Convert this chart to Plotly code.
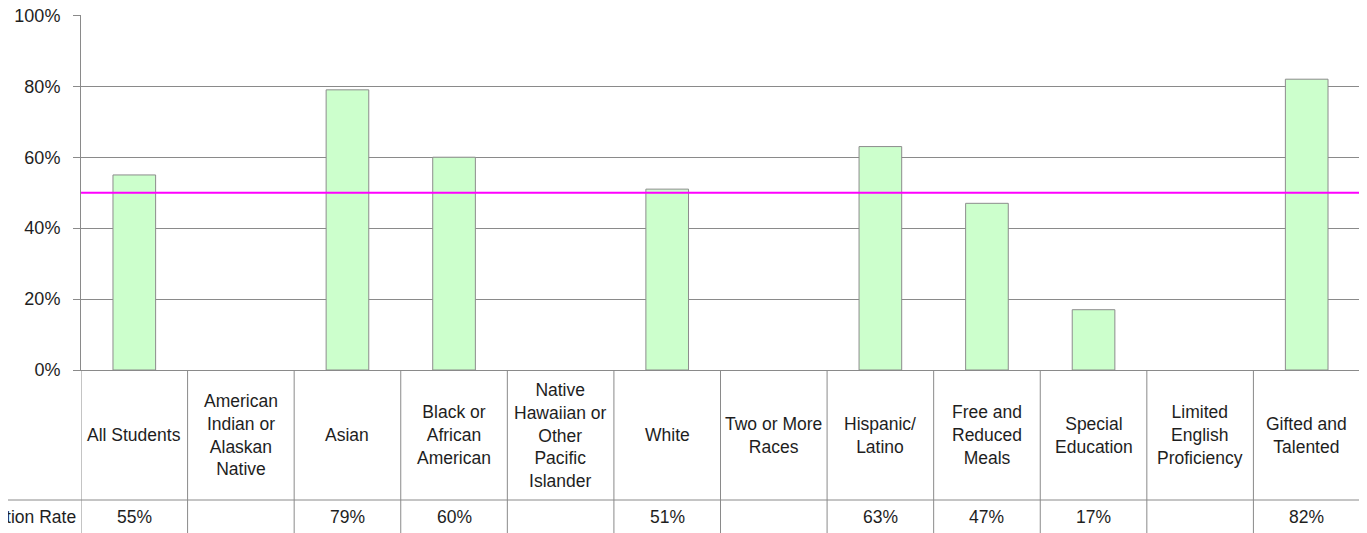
import plotly.graph_objects as go

categories = ['All Students', 'American<br>Indian or<br>Alaskan<br>Native', 'Asian',
              'Black or<br>African<br>American', 'Native<br>Hawaiian or<br>Other<br>Pacific<br>Islander',
              'White', 'Two or More<br>Races', 'Hispanic/<br>Latino', 'Free and<br>Reduced<br>Meals',
              'Special<br>Education', 'Limited<br>English<br>Proficiency', 'Gifted and<br>Talented']
rates = [0.55, None, 0.79, 0.60, None, 0.51, None, 0.63, 0.47, 0.17, None, 0.82]
target = 0.50
row_label = 'Participation Rate'
y_ticks = [0, 0.2, 0.4, 0.6, 0.8, 1.0]
y_tick_text = ['0%', '20%', '40%', '60%', '80%', '100%']

# page body adds an 8px offset, so the figure is sized to fit the window
W, H = 1359, 525
ml, mr, mt, mb = 73, 7, 7, 163
plot_h = H - mt - mb
plot_w = W - ml - mr
font = 'Liberation Sans, Arial, sans-serif'
txt_col = '#1e1e1e'
line_col = '#8a8a8a'
tsize = 17.5

xs = list(range(len(categories)))

fig = go.Figure()
fig.add_trace(go.Bar(x=xs, y=rates, width=0.4,
                     marker=dict(color='#CCFFCC', line=dict(color='#8c8c8c', width=1)),
                     hoverinfo='skip'))

shapes = []
# target line
shapes.append(dict(type='line', xref='paper', yref='y', x0=0, x1=1, y0=target, y1=target,
                   line=dict(color='#FF00FF', width=2), layer='above'))
# data table lines
bottom = -(mb + 10) / plot_h
for i in range(len(categories) + 1):
    shapes.append(dict(type='line', xref='x', yref='paper', x0=i - 0.5, x1=i - 0.5, y0=0, y1=bottom,
                       line=dict(color=line_col, width=1)))
row_y = -130 / plot_h
shapes.append(dict(type='line', xref='paper', yref='paper', x0=-ml / plot_w, x1=1, y0=row_y, y1=row_y,
                   line=dict(color=line_col, width=1)))

annotations = []
for i, c in enumerate(categories):
    annotations.append(dict(x=i, y=-65 / plot_h, xref='x', yref='paper', text=c, showarrow=False,
                            xanchor='center', yanchor='middle', align='center',
                            font=dict(family=font, size=tsize, color=txt_col)))
    if rates[i] is not None:
        annotations.append(dict(x=i, y=-147 / plot_h, xref='x', yref='paper',
                                text=f'{round(rates[i] * 100)}%', showarrow=False,
                                xanchor='center', yanchor='middle',
                                font=dict(family=font, size=tsize, color=txt_col)))
annotations.append(dict(x=-3 / plot_w, y=-147 / plot_h, xref='paper', yref='paper', text=row_label,
                        showarrow=False, xanchor='right', yanchor='middle',
                        font=dict(family=font, size=tsize, color=txt_col)))

fig.update_layout(
    width=W, height=H,
    margin=dict(l=ml, r=mr, t=mt, b=mb, autoexpand=False),
    paper_bgcolor='white', plot_bgcolor='white',
    showlegend=False,
    shapes=shapes, annotations=annotations,
    xaxis=dict(range=[-0.5, len(categories) - 0.5], showticklabels=False, showgrid=False,
               zeroline=False, showline=True, linecolor=line_col, ticks='', automargin=False),
    yaxis=dict(range=[0, 1.001], tickvals=y_ticks, ticktext=y_tick_text, showgrid=True,
               gridcolor=line_col, gridwidth=1, zeroline=False, showline=True, linecolor=line_col,
               ticks='outside', ticklen=7, tickcolor=line_col, ticklabelstandoff=9, automargin=False,
               ticklabeloverflow='allow', tickfont=dict(family=font, size=18, color=txt_col)),
)

fig.write_html('out.html')
